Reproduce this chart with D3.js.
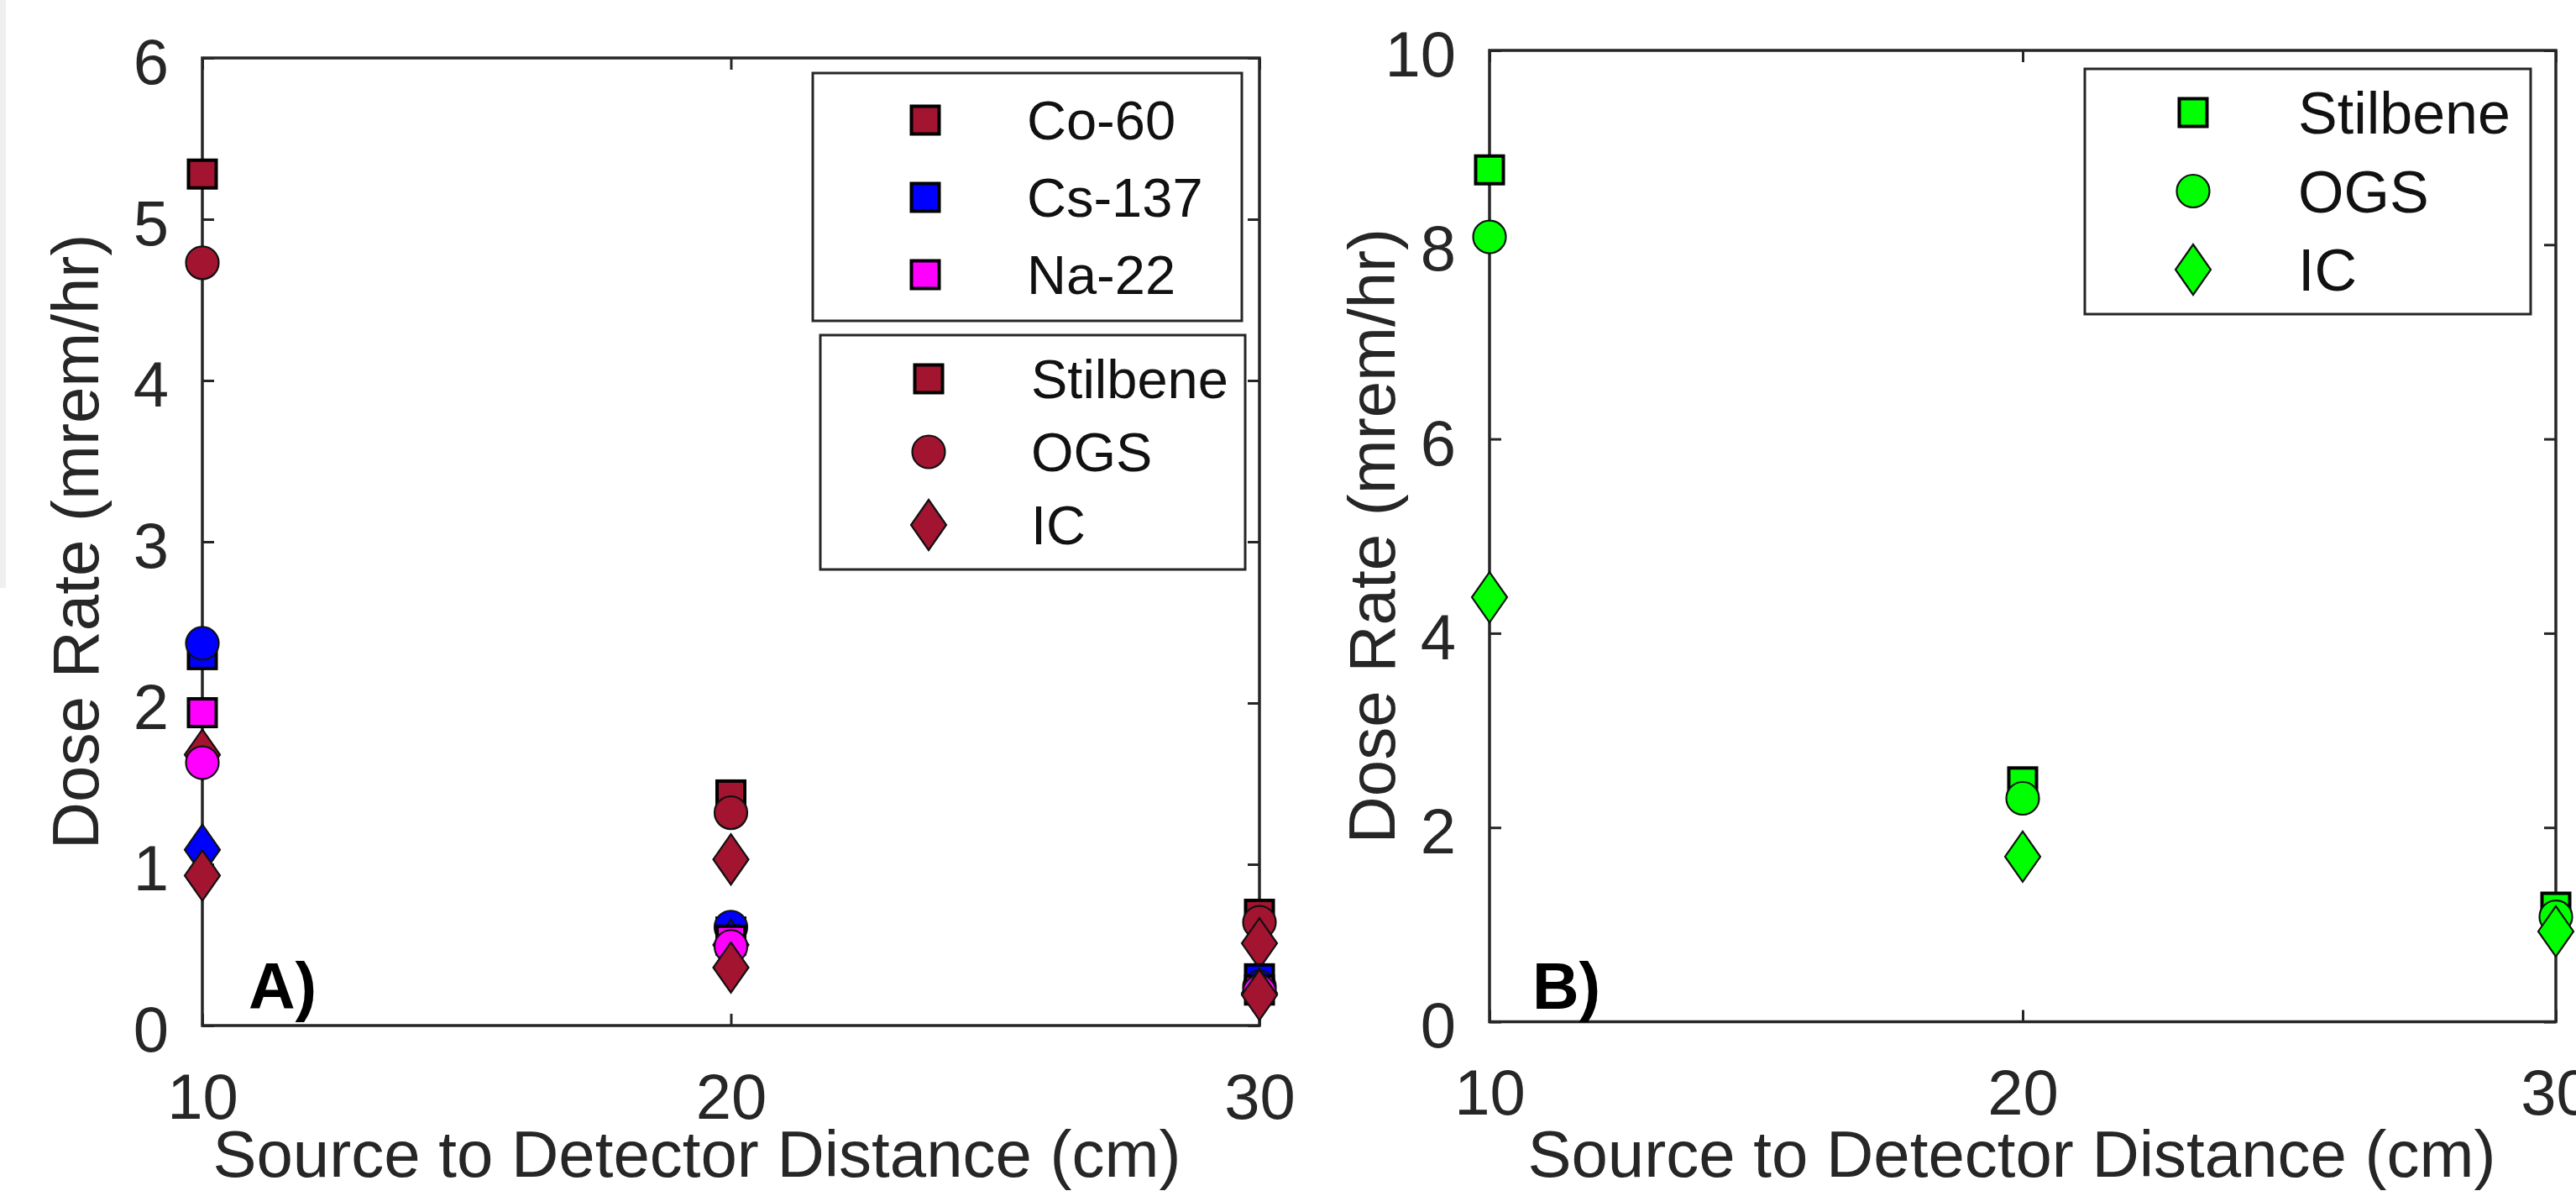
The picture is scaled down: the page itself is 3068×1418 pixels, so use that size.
<!DOCTYPE html>
<html>
<head>
<meta charset="utf-8">
<script src="https://cdn.jsdelivr.net/npm/d3@7"></script>
<style>
  html, body { margin: 0; padding: 0; background: #fff; }
  svg { display: block; }
</style>
</head>
<body>
<div id="container"></div>
<script>
// x values shared by both panels (cm)
const distances = [10, 20, 30];
const sourceNames = ['Co-60', 'Cs-137', 'Na-22'];
const detectorNames = ['Stilbene', 'OGS', 'IC'];

// panel A, dose rate (mrem/hr) per source and detector
const co60Stilbene = [5.28, 1.43, 0.69];
const co60OGS = [4.73, 1.32, 0.64];
const co60IC = [1.68, 1.03, 0.51];
const cs137Stilbene = [2.30, 0.58, 0.29];
const cs137OGS = [2.37, 0.61, 0.24];
const cs137IC = [1.09, 0.50, 0.20];
const na22Stilbene = [1.94, 0.53, 0.22];
const na22OGS = [1.63, 0.49, 0.21];
const na22IC = [0.93, 0.36, 0.19];

// panel B
const bStilbene = [8.77, 2.47, 1.18];
const bOGS = [8.08, 2.30, 1.08];
const bIC = [4.37, 1.70, 0.93];

const xTicks = [10, 20, 30];
const yTicksA = [0, 1, 2, 3, 4, 5, 6];
const yTicksB = [0, 2, 4, 6, 8, 10];

const width = 3068;
const height = 1418;
const ink = '#262626';
const font = '"Liberation Sans", Arial, sans-serif';

const colors = { 'Co-60': '#A2142F', 'Cs-137': '#0000FF', 'Na-22': '#FF00FF' };
const green = '#00FF00';

const svg = d3.select('#container')
  .append('svg')
  .attr('width', width)
  .attr('height', height)
  .attr('viewBox', [0, 0, width, height])
  .style('font-family', font)

svg.append('rect').attr('width', width).attr('height', height).attr('fill', 'white')
svg.append('rect').attr('width', 7).attr('height', 700).attr('fill', '#efefef')

function marker(g, shape, x, y, fill) {
  if (shape === 'Stilbene') {
    g.append('rect')
      .attr('x', x - 16.5).attr('y', y - 16.5)
      .attr('width', 33).attr('height', 33)
      .attr('fill', fill).attr('stroke', '#000').attr('stroke-width', 4)
  } else if (shape === 'OGS') {
    g.append('circle')
      .attr('cx', x).attr('cy', y).attr('r', 19.5)
      .attr('fill', fill).attr('stroke', '#111').attr('stroke-width', 2.2)
  } else {
    g.append('path')
      .attr('d', `M${x},${y - 30}L${x + 21},${y}L${x},${y + 30}L${x - 21},${y}Z`)
      .attr('fill', fill).attr('stroke', '#111').attr('stroke-width', 2.2)
  }
}

function frame(x, y, yTicks, xLabelX, yLabelX, letter, letterX) {
  const [x0, x1] = x.range();
  const [y0, y1] = y.range();
  const g = svg.append('g');

  const style = sel => {
    sel.select('.domain').remove();
    sel.selectAll('line').attr('stroke', ink).attr('stroke-width', 3);
    sel.attr('font-family', font).attr('font-size', 76);
    sel.selectAll('text').attr('fill', ink);
  };

  g.append('g').attr('transform', `translate(${x0},0)`)
    .call(d3.axisLeft(y).tickValues(yTicks).tickFormat(d3.format('d')).tickSize(-14).tickPadding(40))
    .call(style)
    .call(s => s.selectAll('text').attr('dy', '0.4em'))
  g.append('g').attr('transform', `translate(${x1},0)`)
    .call(d3.axisRight(y).tickValues(yTicks).tickSize(-14).tickFormat(''))
    .call(style)
  g.append('g').attr('transform', `translate(0,${y0})`)
    .call(d3.axisBottom(x).tickValues(xTicks).tickFormat(d3.format('d')).tickSize(-14).tickPadding(57))
    .call(style)
  g.append('g').attr('transform', `translate(0,${y1})`)
    .call(d3.axisTop(x).tickValues(xTicks).tickSize(-14).tickFormat(''))
    .call(style)

  g.append('rect')
    .attr('x', x0).attr('y', y1)
    .attr('width', x1 - x0).attr('height', y0 - y1)
    .attr('fill', 'none').attr('stroke', ink).attr('stroke-width', 3.5)

  g.append('text')
    .attr('x', xLabelX).attr('y', 1401)
    .attr('text-anchor', 'middle').attr('font-size', 78).attr('fill', ink)
    .text('Source to Detector Distance (cm)')

  g.append('text')
    .attr('transform', `translate(${yLabelX},${(y0 + y1) / 2}) rotate(-90)`)
    .attr('text-anchor', 'middle').attr('font-size', 78).attr('fill', ink)
    .text('Dose Rate (mrem/hr)')

  g.append('text')
    .attr('x', letterX).attr('y', 1201)
    .attr('font-size', 77).attr('font-weight', 'bold').attr('fill', '#000')
    .text(letter)
}

function legend(box, rows, markerX, textX, rowY, rowStep, fontSize) {
  const g = svg.append('g');
  g.append('rect')
    .attr('x', box[0]).attr('y', box[1]).attr('width', box[2]).attr('height', box[3])
    .attr('fill', 'white').attr('stroke', ink).attr('stroke-width', 3)
  rows.forEach((r, i) => {
    const cy = rowY + i * rowStep;
    marker(g, r.shape, markerX, cy, r.fill);
    g.append('text')
      .attr('x', textX).attr('y', cy).attr('dy', '0.36em')
      .attr('font-size', fontSize).attr('fill', '#111')
      .text(r.label)
  })
}

// ---- panel A
const xA = d3.scaleLinear([10, 30], [241, 1500]);
const yA = d3.scaleLinear([0, 6], [1221, 69]);
frame(xA, yA, yTicksA, 830, 117, 'A)', 296);

const seriesA = [
  ['Co-60', 'Stilbene', co60Stilbene], ['Co-60', 'OGS', co60OGS], ['Co-60', 'IC', co60IC],
  ['Cs-137', 'Stilbene', cs137Stilbene], ['Cs-137', 'OGS', cs137OGS], ['Cs-137', 'IC', cs137IC],
  ['Na-22', 'Stilbene', na22Stilbene], ['Na-22', 'OGS', na22OGS], ['Na-22', 'IC', na22IC]
];
const gA = svg.append('g');
seriesA.forEach(([src, det, vals]) => {
  // the Na-22 IC diamonds are drawn in the Co-60 colour in the original figure
  const fill = (src === 'Na-22' && det === 'IC') ? colors['Co-60'] : colors[src];
  vals.forEach((v, i) => marker(gA, det, xA(distances[i]), yA(v), fill));
})

legend([968, 87, 511, 295],
  sourceNames.map(s => ({ shape: 'Stilbene', fill: colors[s], label: s })),
  1102, 1223, 143, 92, 65)
legend([977, 399, 506, 279],
  detectorNames.map(d => ({ shape: d, fill: colors['Co-60'], label: d })),
  1106, 1228, 451, 87, 65)

// ---- panel B
const xB = d3.scaleLinear([10, 30], [1774, 3044]);
const yB = d3.scaleLinear([0, 10], [1216.5, 60]);
frame(xB, yB, yTicksB, 2396, 1661, 'B)', 1825);

const gB = svg.append('g');
[['Stilbene', bStilbene], ['OGS', bOGS], ['IC', bIC]].forEach(([det, vals]) => {
  vals.forEach((v, i) => marker(gB, det, xB(distances[i]), yB(v), green));
})

legend([2483, 82, 531, 292],
  detectorNames.map(d => ({ shape: d, fill: green, label: d })),
  2612, 2737, 134, 93.5, 70)
</script>
</body>
</html>
